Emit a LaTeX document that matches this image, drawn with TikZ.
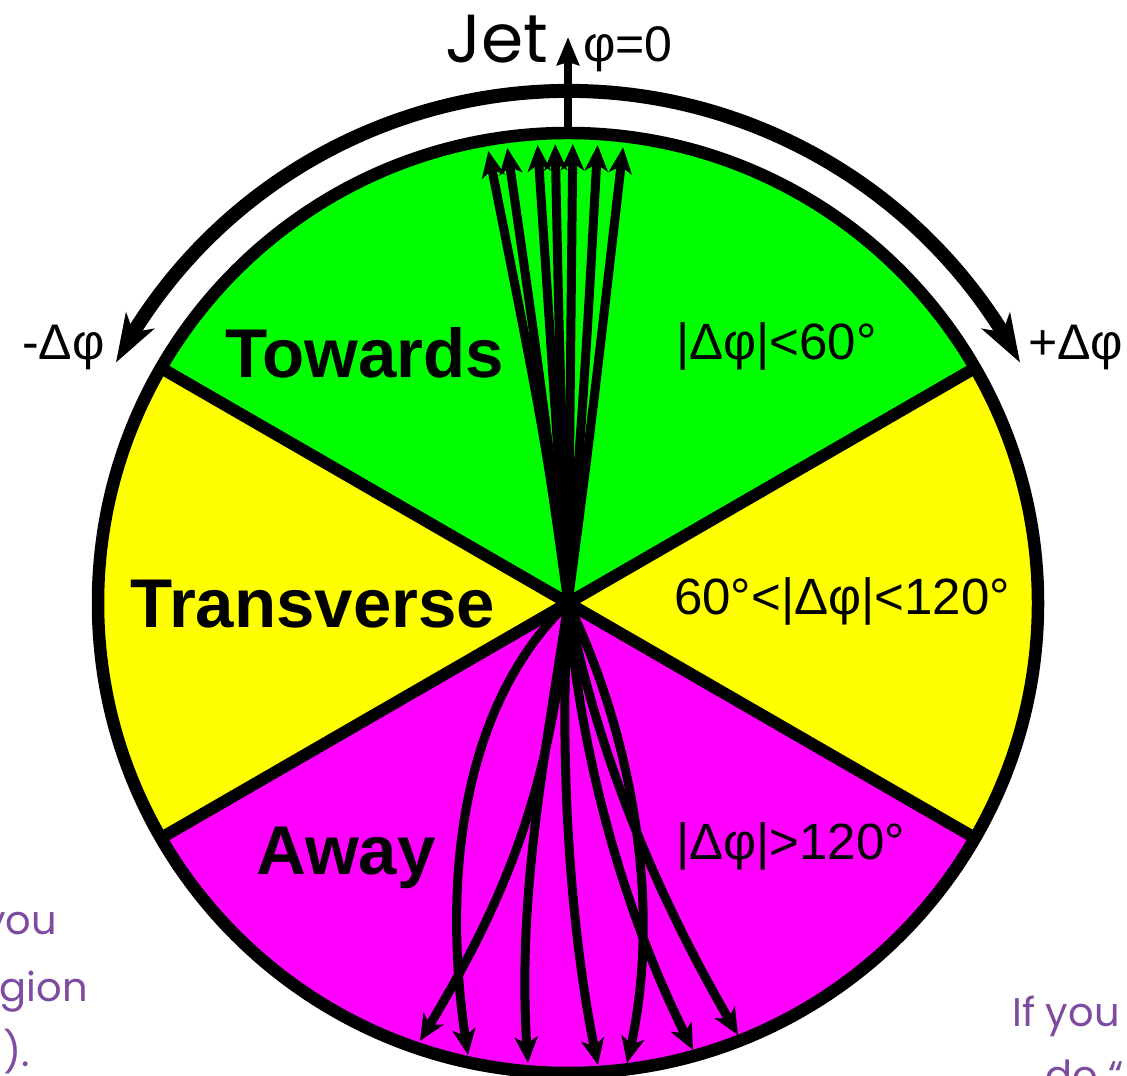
\documentclass[tikz,border=0pt]{standalone}
\usepackage{fontspec}
\setmainfont{Liberation Sans}
\newfontfamily\gothic{Poppins}
\usetikzlibrary{arrows.meta,bending}
\definecolor{sgreen}{RGB}{0,255,0}
\definecolor{syellow}{RGB}{255,255,0}
\definecolor{smag}{RGB}{255,0,255}
\definecolor{spurple}{RGB}{125,75,160}
\tikzset{
  divline/.style={line width=12pt},
  ray/.style={line width=9pt, -{Stealth[length=26pt,width=23pt,inset=7pt]}},
  boldlab/.style={font=\fontsize{69}{72}\selectfont\bfseries, inner sep=0pt},
  reglab/.style={font=\fontsize{51}{54}\selectfont, inner sep=0pt},
  purp/.style={font=\gothic\fontsize{40}{44}\selectfont, text=spurple, inner sep=0pt},
}
\begin{document}
\begin{tikzpicture}[x=1pt,y=1pt]
\useasboundingbox (0,0) rectangle (1127,1076);
\coordinate (C) at (568,473);
% sectors
\fill[sgreen] (C) -- ++(30:470) arc[start angle=30,end angle=150,radius=470] -- cycle;
\fill[syellow] (C) -- ++(150:470) arc[start angle=150,end angle=210,radius=470] -- cycle;
\fill[smag] (C) -- ++(210:470) arc[start angle=210,end angle=330,radius=470] -- cycle;
\fill[syellow] (C) -- ++(-30:470) arc[start angle=-30,end angle=30,radius=470] -- cycle;
% division lines
\foreach \a/\n in {30/d1,150/d2,210/d3,330/d4}{
  \path (C) ++(\a:470) coordinate (\n);
  \draw[divline] (C) -- (\n);
}
% outer circle
\draw[line width=12.5pt] (C) circle[radius=470];
% labels
\node[boldlab, anchor=base] (tow) at (365,698) {Towards};
\node[boldlab, anchor=base] (tra) at (313,448) {Transverse};
\node[boldlab, anchor=base] (awa) at (346,201) {Away};
\node[reglab, anchor=base west] (l1) at (676,716) {|Δφ|<60°};
\node[reglab, anchor=base west] (l2) at (674,461) {60°<|Δφ|<120°};
\node[reglab, anchor=base west] (l3) at (676,216) {|Δφ|>120°};
% top rays
\foreach \a/\n in {100.0/t1,97.6/t2,93.8/t3,91.6/t4,89.4/t5,86.3/t6,83.1/t7}{
  \path (C) ++(\a:459) coordinate (\n);
}
\draw[ray] (C) .. controls (545,640) .. (t1);
\draw[ray] (C) .. controls (540,700) .. (t2);
\draw[ray] (C) -- (t3);
\draw[ray] (C) .. controls (560,700) .. (t4);
\draw[ray] (C) -- (t5);
\draw[ray] (C) .. controls (585,700) .. (t6);
\draw[ray] (C) .. controls (590,640) .. (t7);
% bottom rays
\coordinate (bA) at (420,35);
\coordinate (bB) at (468,21);
\coordinate (bC) at (528,13);
\coordinate (bD) at (598,11);
\coordinate (bE) at (627,13);
\coordinate (bF) at (693,26);
\coordinate (bG) at (738,41);
\draw[ray] (C) .. controls (550,276) and (500,166) .. (bA);
\draw[ray] (C) .. controls (460,370) and (440,190) .. (bB);
\draw[ray] (C) .. controls (545,316) and (515,176) .. (bC);
\draw[ray] (C) .. controls (558,296) and (573,124) .. (bD);
\draw[ray] (C) .. controls (625,356) and (668,176) .. (bE);
\draw[ray] (C) .. controls (575,376) and (605,196) .. (bF);
\draw[ray] (C) .. controls (590,356) and (640,206) .. (bG);
% jet arrow
\path (C) ++(90:470) coordinate (top);
\coordinate (jettip) at (568,1039);
\draw[line width=8.5pt, -{Stealth[length=28pt,width=22pt,inset=3pt]}] (top) -- (jettip);
\node[font=\gothic\fontsize{68}{72}\selectfont, anchor=base west, inner sep=0pt] (jet) at (445,1013) {Jet};
\node[font=\fontsize{50}{54}\selectfont, anchor=base west, inner sep=0pt] (phi0) at (583,1014) {φ=0};
% delta phi arc
\path (C) ++(152:512) coordinate (arcL);
\draw[line width=14pt, {Stealth[length=48pt,width=32pt,inset=13pt]}-{Stealth[length=48pt,width=32pt,inset=13pt]}]
  (arcL) arc[start angle=152,end angle=28,radius=512];
\node[font=\fontsize{50}{54}\selectfont, inner sep=0pt, anchor=base west] (mdp) at (22,716) {-Δφ};
\node[font=\fontsize{50}{54}\selectfont, inner sep=0pt, anchor=base west] (pdp) at (1028,716) {+Δφ};
% cropped purple text
\node[purp, anchor=base east] (p1) at (57,141) {you};
\node[purp, anchor=base east] (p2) at (88,74) {gion};
\node[purp, anchor=base east] (p3) at (30,9) {).};
\node[purp, anchor=base west] (p4) at (1012,49) {If you};
\node[purp, anchor=base west] (p5) at (1045,-14) {do “};
\end{tikzpicture}
\end{document}
